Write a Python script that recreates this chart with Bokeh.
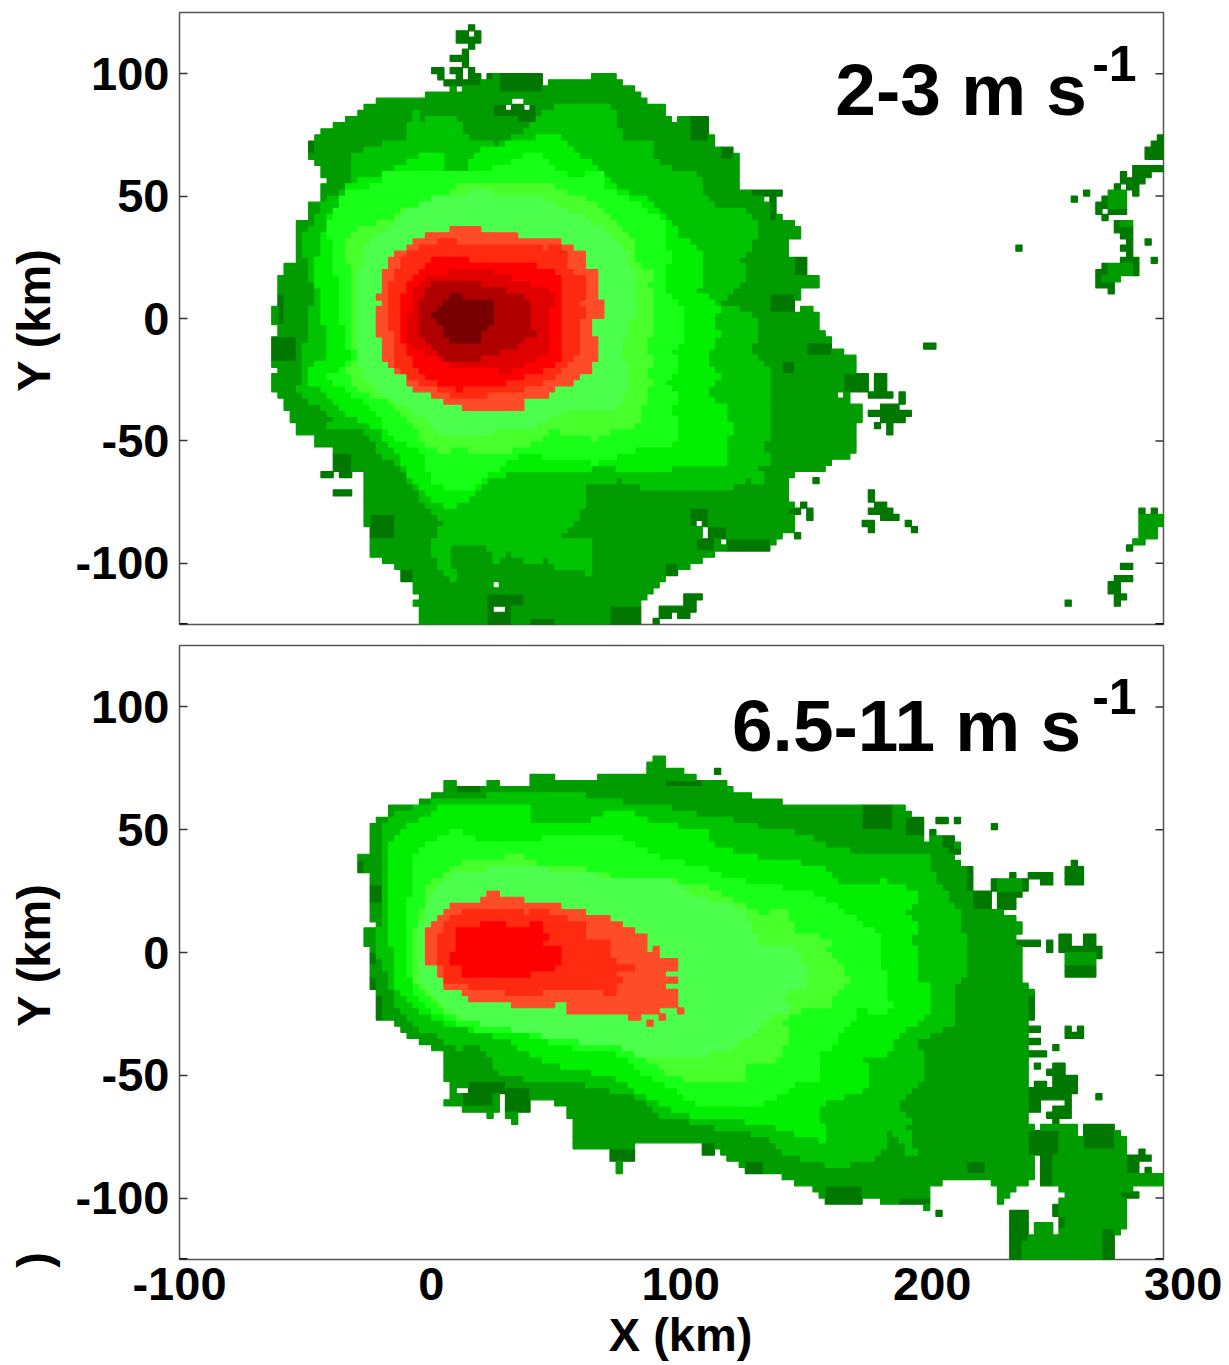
import math
import numpy as np
from bokeh.plotting import figure
from bokeh.layouts import column
from bokeh.models import Label, FixedTicker, LinearAxis, AllLabels
from bokeh.embed import file_html
from bokeh.resources import INLINE

X_TICKS = [-100, 0, 100, 200, 300]
X_TICK_LABEL_AT = [-100, 2.4, 103.7, 206, 300]
Y_TICKS = [-100, -50, 0, 50, 100]
COLORS = ["#007800", "#009c00", "#00c400", "#00f000", "#18ff18", "#48ff2c", "#4cff4c",
          "#ff4c28", "#ff2a10", "#ff0000", "#e00000", "#b00000", "#780000"]

# ---- top panel: outlines of each level (km) ----
T1 = [(-48,72.5),(-42.7,75.4),(-35.4,80.4),(-27.2,82.8),(-25.2,85.7),(-19.5,88.6),(-15,91),(-10,88.6),(0,91),(10,93),(8,95),(14,95),(25,98),(30.5,101),(44.7,101),(48,93),(53,98.4),(67,98),(70,101),(75,101),(80,96),(85.4,93),(90,88.6),(95.5,88.6),(100.4,80.8),(107.7,82.8),(115,78.3),(118,70.5),(125,70.5),(127,66),(127,55.8),(130,50.8),(135,53),(145,53),(145,50.8),(140,50),(143,43.5),(147,40.6),(152.4,37.7),(152.4,33.6),(147,30.3),(147,24.2),(150.4,25.4),(155,25),(155,18),(160,18),(160,13),(152.4,12),(149.6,2.5),(155.7,5),(160,2.5),(160,-4.5),(165.4,-7.4),(165.4,-12),(172.4,-14.8),(174.8,-17),(174.8,-22),(180.5,-22),(177.6,-37.3),(174.8,-45.5),(174.8,-52.5),(172,-56.6),(165.4,-57),(161.8,-62),(152.4,-62),(147.6,-65),(150,-86.5),(142.7,-90),(140.2,-94.7),(117.9,-94.7),(115,-97.6),(110.6,-100),(104.9,-103),(98,-105),(94.7,-107.8),(91.9,-112.3),(87.8,-115.2),(87.8,-125),(-2.8,-125),(-2.8,-117.3),(-5,-116.4),(-2.8,-114),(-5,-107.8),(-10,-107),(-10,-103),(-15,-100),(-20.3,-97.6),(-22.8,-100),(-22.8,-90.6),(-20.3,-87.7),(-25.2,-84.5),(-25.2,-62.7),(-30.5,-62),(-37.4,-62),(-37.4,-55),(-35.4,-52.5),(-42.7,-52.5),(-45.5,-49.6),(-47.6,-46.7),(-52.4,-49.2),(-52.4,-42.6),(-55.3,-42.2),(-55.3,-37.3),(-57.7,-35.3),(-57.7,-32),(-62.2,-29),(-62.2,-24.2),(-59.8,-22),(-59.8,-19.7),(-62.2,-19.7),(-62.2,-9.8),(-60.2,-4.5),(-62.6,-1.6),(-60.2,10.7),(-57.7,23),(-52.4,23.4),(-52.4,40.6),(-48,40.6),(-48,46),(-42.7,48),(-42.7,53),(-39.8,57.8),(-42.7,58.2),(-42.7,63),(-48,66)]
T2 = [(-45.5,10.7),(-50,29.5),(-50,33),(-45.5,39.4),(-39.8,48.8),(-30.5,54),(-29.7,66.4),(-25.2,69.3),(-7.3,73.4),(-5,85.7),(-0.8,85.7),(-2.8,80.8),(13,82.8),(17.5,73.4),(29.7,70.5),(41.5,76.7),(50,85.7),(65,88.6),(76.4,85.7),(80,73.4),(92.3,73.4),(92.7,66),(100.4,61),(112.6,58.2),(112.6,50.8),(117.9,46),(131,43.5),(135,37.7),(133,29.5),(128,25),(130,16),(125,12),(120,5.7),(133.3,2.5),(135,-5.7),(133,-14),(140.7,-22),(139.8,-33),(140.7,-47.6),(137.4,-50.8),(140.7,-59),(135.4,-60.7),(137.8,-67.2),(130.5,-66),(122.8,-70),(92.7,-70),(85,-68),(80,-66),(65,-67.2),(65,-77),(54.9,-89.4),(67,-90.6),(67,-104),(54.9,-103),(49.6,-97.6),(42.7,-100),(32.5,-94.7),(27.6,-101.7),(25.2,-91.8),(9.3,-91.8),(12.2,-107),(4.9,-101.7),(2.8,-91.8),(4.9,-87.3),(7.3,-83.2),(-0.8,-75.4),(-10,-60),(-17.5,-55.8),(-20.3,-52.5),(-22.4,-46.7),(-30.5,-44.7),(-39.8,-44.7),(-37.4,-40),(-47.6,-33),(-52,-30),(-50,-22),(-50,-13.5),(-48,-8.6)]
T3 = [(-42.7,3.7),(-44.7,21.3),(-39.8,40.6),(-34.5,48.8),(-30.5,55.8),(-18.3,58.2),(-10,62.3),(2,68),(7.3,68),(8,61),(17,61),(19.5,68),(30.5,70.5),(39.8,73.4),(55,74.6),(63,66.4),(70,61),(80,51.7),(92.7,47.6),(102.4,35),(112.6,25.4),(112.6,17.2),(110.6,10.7),(120,5),(117,-3.3),(120,-5.7),(114.7,-14),(114.2,-19.7),(120,-22),(113.4,-33),(122.8,-34.4),(124,-45.5),(122,-59),(106.5,-59),(93.5,-63),(79.3,-62),(74,-59),(63,-63),(54.9,-62),(42.7,-62),(27.6,-64.8),(19.5,-73),(13,-75.4),(10,-79.5),(2.8,-73),(-7.3,-63),(-13,-52.5),(-20.3,-44.3),(-31.7,-40),(-37.8,-32),(-49.6,-25),(-45.5,-20),(-39.8,-15.6),(-39.8,-8.6)]
T4 = [(-34.5,7.8),(-39.8,39.4),(-31.7,52.9),(-19.5,54),(-17,59.9),(0.8,59.9),(9,59),(23.6,60.3),(31.7,62.3),(44,68),(52,62.3),(59,57.8),(72.4,59.9),(72.4,54),(83.3,48.8),(87.4,46),(96.7,39.4),(98.4,28.3),(100.4,24.2),(97.6,20),(96.7,11.9),(104.9,5),(104.9,-7.4),(100.4,-14),(102.8,-19.7),(98,-26),(102,-32),(100.4,-36),(102.8,-44.3),(100.4,-52.5),(87.8,-52.5),(80,-55),(70,-59),(54.9,-57.8),(39.8,-55),(27.6,-62),(21,-69),(14.2,-69),(13,-71.3),(2.8,-66),(-0.8,-55),(-13,-48.4),(-22.4,-36),(-33.3,-29),(-39.8,-23.8),(-32.5,-19.7),(-30.5,-15.6),(-33.3,-8.6)]
T5 = [(-29.7,10.7),(-32.5,30.3),(-25.2,37.7),(-15,39.4),(-10,43.5),(3.3,48.8),(10,51.7),(14.2,55.8),(34.6,55),(52,53.7),(68.3,47.6),(83.3,33.6),(86.2,21.3),(95.5,17.2),(88.6,14.8),(92.7,10.7),(91.5,2.5),(92.7,-4.5),(88.6,-9.8),(92.3,-18),(89.4,-22),(92.3,-26),(89.4,-30.3),(87.8,-40),(84,-44.3),(76.4,-44.3),(70,-49.6),(52,-45.5),(41.5,-52.5),(27.6,-55),(22.4,-55),(14.2,-52.5),(9,-54.5),(0,-52.5),(-3.3,-46.7),(-14.2,-34.4),(-26.4,-30.3),(-33.3,-20),(-27.6,-16.8),(-29.3,-8.6)]
T6 = [(-28.5,10.7),(-23.6,29.5),(-10,41.8),(5,50),(22.4,51.7),(44,50),(63,41.8),(75.2,33.6),(82,25.4),(86.2,14.8),(83.3,-3.3),(79.3,-11.5),(82,-21),(81.3,-30.3),(79.3,-36),(54.9,-38.5),(41.5,-45.5),(21,-46.7),(6,-46.7),(-0.8,-41.4),(-7.3,-36),(-15.4,-32),(-25.2,-25),(-27.2,-16.8),(-27.6,-8.6)]
T7 = [(-17.5,15.2),(-15,23),(-10,27.5),(-2.8,33.2),(7.3,35.3),(15,37.7),(22.4,37.7),(22.4,35.3),(32.5,35.3),(42.7,31.2),(44.7,33.2),(52.8,33.2),(57,30.3),(62.2,27.9),(65,25.4),(65,20.9),(70,20.9),(70,8.6),(72.4,8.6),(72.4,0.4),(67.5,-1.6),(67.5,-7.4),(70,-7.4),(70,-14.8),(67,-22),(60,-24.2),(59.8,-27),(54.9,-27),(50,-32.4),(39.8,-32.4),(39.8,-37),(15,-37),(15,-34.4),(9.3,-34),(4.9,-32),(-4.9,-29),(-7.3,-24.2),(-12.2,-22),(-15,-16.8),(-17.5,-16.8),(-17.5,-8.6),(-20.3,-4.5),(-20.3,2.9),(-17.5,5.7),(-20.3,8.6),(-20.3,10.7),(-17.5,11)]
T8 = [(-15,10.7),(-10,23),(-5,27.5),(10,33.2),(12.2,30.3),(39.8,31.2),(48,28.3),(52.8,30.3),(57.7,25.4),(57.7,18.9),(65,18),(65,7.8),(62.6,7.8),(65,2.5),(62.6,-0.4),(62.6,-14),(57.7,-18.9),(52.8,-22),(49.6,-25.8),(39.8,-29),(35.4,-30),(24.4,-30),(24.4,-32.4),(12.2,-32.4),(10,-30),(-2.8,-26),(-7.3,-24.2),(-10,-21.7),(-13,-16.8),(-13,-8.6),(-15,-0.4)]
T9 = [(-10,4.5),(-7.3,15.2),(0,21),(4.9,25.4),(19.5,23.4),(33.3,23),(47.6,21),(54.9,17.2),(54.9,-7.4),(54.9,-13.5),(52.8,-19.7),(44,-22),(30.5,-27),(12.2,-29),(6,-27),(-2.8,-22),(-7.3,-14),(-10,-8.6)]
T10 = [(-7.3,-3.3),(-4.9,10.7),(-2.8,14.8),(2.8,18),(7.3,18),(13,20.9),(20.3,20.9),(31.7,17.2),(39.8,15.2),(50,10.7),(52.8,7.8),(50,2.5),(50,-13.5),(42.7,-17.6),(34.6,-21.7),(21,-20),(12.2,-19.7),(4.9,-16.8),(-2.8,-12.7),(-7.3,-8.6)]
T11 = [(-2.8,-3.3),(-2.8,4.9),(0,10.7),(2.8,15.2),(19.5,15.2),(22.4,13),(29.7,12.7),(42.7,7.8),(42.7,-1.6),(44.7,-6.6),(34.6,-12.7),(19.5,-16.8),(8,-16.8),(4.9,-13.5),(-0.8,-8.6)]
T12 = [(2.8,-0.4),(4.9,4.5),(7.3,5.7),(10,10.7),(15,10.7),(15,8.2),(25,8.2),(27.6,4.5),(27.6,-0.4),(29.7,-0.4),(25,-2.5),(22.4,-5.3),(22.4,-9.8),(10,-9.8),(7.3,-5.3),(4.9,-1.6)]
T_LEVELS = [T2, T3, T4, T5, T6, T7, T8, T9, T10, T11, T12]

# rectangles x0, x1, y0, y1 (km)
T_DARK = [(17.5,20,117.5,120),(12.5,22.5,112.5,117.5),(17.5,20,110,112.5),(15,17.5,107.5,110),(10,17.5,105,107.5),(15,17.5,102.5,105),(2.5,7.5,100,102.5),(5,7.5,97.5,100),(10,15,100,102.5),(12.5,15,97.5,100),(17.5,20,100,102.5),(17.5,22.5,97.5,100),(7.5,22.5,95,97.5),(25,27.5,97.5,100),
(30,47.5,92.5,100),(27.5,45,82.5,87.5),(37.5,45,80,82.5),(-37.5,-30,-62.5,-55),(-42.5,-37.5,-65,-62.5),(-35,-30,-65,-62.5),(-37.5,-30,-72.5,-70),(-22.5,-12.5,-90,-80),(-10,-5,-107.5,-102.5),(25,35,-125,-112.5),(25,40,-117.5,-112.5),(75,87.5,-125,-117.5),(42.5,52.5,-125,-122.5),(-62.5,-52.5,-17.5,-7.5),(-60,-57.5,-2.5,10),(-47.5,-45,67.5,72.5),
(132.5,145,50,52.5),(140,142.5,40,50),(150,155,17.5,25),(140,150,2.5,10),(170,180,-30,-22.5),(145,150,-22.5,-17.5),(155,165,-15,-10),(107.5,115,-85,-77.5),(115,122.5,-90,-85),(122.5,140,-95,-90),(110,117.5,-95,-90),(97.5,102.5,-105,-100),(107.5,115,72.5,82.5),(120,125,65,70),
(182,187.5,-32,-22),(180.5,190,-32.5,-30),(192.5,195,-35,-30),(180,197.5,-40,-37.5),(185,192.5,-37.5,-35),(185,195,-42.5,-40),(187.5,190,-47.5,-42.5),(182.5,185,-45,-42.5),(202.5,207.5,-12.5,-10),(157.5,160,-67.5,-65),(152.5,155,-77.5,-75),(155,157.5,-82.5,-77.5),(147.5,152.5,-80,-77.5),(150,152.5,-90,-87.5),
(180,182.5,-75,-70),(182.5,187.5,-77.5,-75),(180,190,-80,-77.5),(185,192.5,-82.5,-80),(177.5,182.5,-85,-82.5),(180,182.5,-87.5,-85),(195,197.5,-85,-82.5),(197.5,200,-87.5,-85),
(105,112.5,-115,-112.5),(105,110,-120,-115),(95,105,-120,-117.5),(95,100,-122.5,-120),(102.5,107.5,-122.5,-120),(92.5,95,-125,-122.5),
(290,292.5,-80,-77.5),(295,297.5,-80,-77.5),(285,287.5,-95,-92.5),(282.5,287.5,-102.5,-100),(280,287.5,-107.5,-105),(277.5,282.5,-112.5,-107.5),(280,285,-115,-112.5),(280,282.5,-117.5,-115),(260,262.5,-117.5,-115),
(297.5,300,72.5,75),(295,300,70,72.5),(292.5,300,65,70),(287.5,300,60,62.5),(287.5,295,57.5,60),(282.5,285,57.5,60),(282.5,292.5,55,57.5),(280,282.5,52.5,55),(285,290,52.5,55),(287.5,290,50,52.5),(277.5,285,50,52.5),(275,285,47.5,50),(272.5,285,45,47.5),(272.5,275,42.5,45),(277.5,285,42.5,45),(275,277.5,40,42.5),(280,287.5,35,40),(282.5,287.5,32.5,35),(285,287.5,30,32.5),(282.5,287.5,27.5,30),(292.5,295,30,32.5),(267.5,270,50,52.5),(262.5,265,47.5,50),(240,242.5,27.5,30),(285,287.5,25,27.5),(282.5,290,22.5,25),(275,290,17.5,22.5),(272.5,280,12.5,20),(277.5,280,10,12.5),(295,297.5,22.5,25)]
T_LIGHT = [(277.5,285,45,52.5),(282.5,287.5,37.5,40),(277.5,287.5,17.5,22.5),(275,282.5,15,17.5),(290,300,-85,-80),(290,297.5,-90,-85),(287.5,292.5,-92.5,-90)]
T_HOLES = [(17.5,20,115,117.5),(12.5,15,92.5,95),(35,40,88.5,91),(32.5,35,86,88.5),(40,42.5,86,88.5),(27.5,30,-110,-107.5),(27.5,32.5,-120,-117.5),(137.5,140,47.5,50),(172.5,180,-35,-30),(167.5,170,-32.5,-30),(110,112.5,-85,-82.5),(112.5,115,-90,-85),(120,122.5,-92.5,-90)]

# ---- bottom panel ----
B1 = [(-27.6,37.5),(-25.2,40.4),(-22.8,41.2),(-22.8,50.6),(-20.3,55.5),(-15,56),(-15,60.8),(-2.8,60.8),(7.3,65.7),(9.3,70.6),(12.2,68),(25.2,68),(25.2,70.6),(29.7,70.6),(29.7,68),(42.7,68),(42.7,70.6),(44.7,73),(52,73),(52,70.6),(70,70.6),(70,73.4),(90.2,73.4),(90.2,75.9),(92.7,78),(94.7,80.4),(97.6,80.4),(97.6,75),(107.7,73),(112.6,70.2),(122.8,70.2),(124.8,65.7),(136.2,63.2),(147.6,60.8),(192.3,60.8),(195,58),(200,55.5),(202.8,50.6),(203.3,45.3),(207.3,48.6),(214.6,48),(217.5,42.4),(215.4,38.4),(218.3,35.5),(222.8,35.5),(222.8,23.3),(230.5,23.3),(230.5,16.7),(235.8,16),(242.7,13),(242.7,7.8),(240.6,5.7),(243,1.6),(242.7,-10.6),(245,-12.6),(242.7,-16),(248,-16),(248,-27),(245,-29),(245,-67.7),(248,-71.8),(251.2,-69.8),(265,-69.8),(265,-77),(268.3,-70.6),(280.5,-71.8),(285.4,-73),(280.5,-74.7),(285.4,-77),(285.4,-81.2),(289.8,-82.8),(289.8,-89.4),(300,-91.4),(300,-94.2),(287.8,-94.2),(285.4,-99),(285.4,-111.4),(283.3,-113.8),(279.7,-116.7),(277.6,-125),(237.4,-125),(237.4,-104.4),(240.2,-104.4),(240.2,-107.3),(245,-107.3),(245,-111.8),(242.7,-113.8),(248,-116.7),(248,-109.3),(255.3,-109.3),(256,-113.8),(258,-113.8),(258,-101.6),(260,-97.5),(258,-96.3),(250.8,-95.5),(250.8,-82.8),(248,-82),(248,-90),(245,-95),(240.6,-96.3),(240.6,-98.3),(235.8,-99),(235,-101.6),(233,-101.6),(233,-97.5),(230.5,-92.2),(225.6,-91.4),(217.5,-91.4),(210.6,-93.4),(205.3,-96.3),(204.5,-104.4),(198.4,-101.6),(192.3,-101.6),(187,-104.4),(185,-99),(178,-99),(177.6,-104.4),(174.8,-101.6),(162.6,-101.6),(159.8,-98.3),(155.3,-95.5),(149.6,-93.4),(145.5,-91.4),(137.4,-89),(130.9,-89),(128,-85.3),(123.2,-84),(117.9,-79.2),(115,-82),(112.6,-84),(112.6,-79.2),(110.6,-76.7),(87.4,-76.7),(84.6,-79.2),(84.6,-86),(80,-85.3),(80,-89),(77.2,-89),(77.2,-81.2),(75.2,-79.2),(60.2,-79.2),(60.2,-66.5),(57.7,-66.5),(57.7,-62.4),(52.8,-61.6),(47.6,-58.8),(42.7,-60.4),(42.7,-64.5),(37.4,-64.5),(37.4,-69),(34.6,-69),(32.5,-66.5),(32.5,-57.5),(29.7,-56.7),(29.7,-63.6),(27.2,-66.5),(25.2,-66.5),(22.4,-63.6),(20.3,-66.5),(15,-63.6),(7.3,-61.6),(7.3,-58.8),(9.8,-58.8),(9.8,-51.4),(7.3,-51.4),(7.3,-42),(5.3,-40),(-2.8,-36.3),(-7.3,-33.9),(-13,-28.2),(-20,-24),(-20,-9.4),(-22.8,-13.9),(-22.8,0.8),(-25.2,3.7),(-25.2,7.8),(-22.8,10.6),(-20,11),(-22.8,13),(-22.8,20.8),(-22.8,32.2),(-27.6,33.5)]
B2 = [(-20.3,2.9),(-17.5,16.7),(-17.5,52.6),(-10,57.5),(0,60.8),(9,62.8),(25.2,63.6),(33.3,65.7),(42.7,64),(79.3,63.6),(80.5,60.8),(95.5,60.8),(100.8,58),(112.6,55.5),(120.7,55.5),(136.2,50.6),(152.4,48.6),(165.4,42.4),(177.6,40.4),(187.8,40.4),(204,39.2),(207.3,30.2),(212.6,23.3),(214.6,18),(218.3,16.7),(218.7,8.6),(220.3,-5.3),(222.8,-7.8),(215.4,-11.8),(214.6,-29.8),(208,-32.2),(198,-38),(202.4,-42),(202.4,-50.2),(195,-57.5),(192.3,-62.8),(197,-67.7),(195,-70.6),(200,-82),(197,-82.8),(187.8,-70.6),(187.8,-79),(180.9,-85.3),(165.4,-87),(156.5,-85.3),(144.3,-80.8),(137.4,-74.7),(126.8,-73),(107.7,-69),(95.5,-66.5),(87.4,-59.6),(76.4,-56.7),(57.7,-51.4),(42.7,-52.6),(37.4,-49.4),(29.3,-50.2),(27.6,-44.5),(22.4,-37),(12.2,-39.2),(8,-36.3),(2.8,-32.2),(-2.8,-31),(-12.2,-21.6),(-15,-11.8),(-17.5,-5.3)]
B3 = [(-13,1.6),(-15,5.7),(-15,45.3),(-10,48.6),(-7.3,52.6),(2.8,55.5),(7.3,60.8),(15,58.8),(37.4,60),(42.7,60.8),(42.7,53.4),(67,53.4),(75.2,57.5),(89.4,55.5),(90.2,52.6),(114.6,49.8),(117,43.7),(136.2,38.4),(159.3,35.5),(170,26),(178,28),(187.8,29),(202.4,23.3),(195,17),(200,12.6),(198,4.9),(201.2,-3.3),(200.4,-11.8),(205.3,-13.5),(204,-24),(198,-29.8),(191,-33.9),(187.8,-43.2),(178,-42),(180,-51.4),(177.6,-56.7),(165.4,-59.6),(159.8,-62.8),(162.6,-78.7),(159.8,-78.7),(159.8,-74.7),(152.4,-74.7),(138.2,-69.8),(123.2,-67.7),(110.6,-66.5),(102.4,-65.7),(87.4,-57.5),(76.4,-50.6),(63,-48),(49.6,-45.3),(42.7,-41.2),(34.6,-36.3),(22.4,-32.2),(7.3,-29),(-2.8,-22.8),(-11,-16),(-13,-5.3)]
B4 = [(-7,-6.5),(-7.3,7),(-5,39.6),(0,43.2),(5.3,45.7),(12.2,49.8),(22.4,45.7),(45.5,45.3),(53.7,47.7),(78,47.7),(87.4,42.4),(98.4,37),(110.6,35.5),(117,32),(136.2,27.3),(156.5,24.9),(170,16.7),(175.6,13),(184,7.8),(185,1.6),(184,-5.3),(187.8,-9.4),(186.2,-16),(190.2,-22.8),(181,-25.7),(176.8,-21.6),(172.8,-28.2),(167.9,-33.9),(164.6,-39.2),(159.8,-42),(159.8,-51.4),(150.4,-51.4),(147.6,-56.7),(140.2,-59.6),(133.3,-63.6),(123.2,-62.4),(110.6,-62.4),(102.4,-56.7),(88.6,-49.4),(79.3,-42),(72.4,-40),(61.8,-39.2),(45.5,-35),(35.8,-31.8),(20.3,-31.8),(7.3,-26),(2,-22.8),(-5,-17.5)]
B5 = [(-5,-11.8),(-5,7),(0,20.8),(0,26),(7.3,31.4),(12.2,35.5),(20.3,37.5),(39.4,39.6),(45.5,35.5),(54.9,35.5),(68.3,33),(80.5,30.2),(97.6,30.2),(104.9,28),(112.6,28),(121,23.3),(136.2,15),(147.6,18),(149.6,7),(168,5.7),(161.8,1.6),(172.8,-10.6),(164.6,-18.8),(165.4,-22.8),(155.3,-21.6),(145.5,-28.2),(147,-33.9),(145.5,-43.2),(136.2,-44.5),(128,-47.3),(131,-51.4),(111.8,-52.6),(99.6,-50.2),(90.2,-43.2),(76.4,-37),(65.9,-37),(54.9,-33.9),(34.6,-30.2),(17.5,-28),(6,-22.8),(-2,-14.7)]
B6 = [(-2.8,-10.6),(-2.8,7),(2.8,24.9),(10,31.4),(22.4,33.5),(41.5,35.5),(54.9,33),(78,30.2),(97.6,29.4),(104.9,26),(110.6,22),(128,18),(136.2,2.9),(149.6,2.9),(153.7,-5.3),(154.5,-13.5),(144.3,-17.5),(149.6,-22.8),(139,-27),(136.2,-29.8),(125.2,-39),(111.8,-42),(88.6,-43.2),(76.4,-37),(63,-36.3),(33.3,-31),(15.4,-27),(4.9,-18.8),(-0.8,-11.8)]
B7 = [(0,-4.5),(0,7.8),(2.8,10.6),(5.3,13),(9.3,18),(12.2,20.8),(22.4,20.8),(22.4,23.3),(25.2,23.3),(25.2,25.7),(30,25.7),(30,23.3),(39.8,23.3),(39.8,20.8),(54.9,20.8),(54.9,18),(65,18),(65,15.5),(75.2,15.5),(75.2,13),(80,13),(80,10.6),(85.4,10.6),(85.4,8.2),(89.8,8.2),(89.8,0.8),(92.7,0.8),(92.7,3.3),(95,3.3),(95,-2),(102.4,-2),(102.4,-7),(97.6,-7),(97.6,-9.4),(102.4,-9.4),(102.4,-11.8),(97.6,-11.8),(97.6,-14.3),(102.4,-16.7),(102.4,-21.6),(95,-21.6),(95,-24),(87.8,-24),(87.8,-26.5),(82.5,-26.5),(82.5,-24),(57.3,-24),(57.3,-19.2),(52.4,-19.2),(52.4,-21.6),(35,-21.6),(35,-19.2),(17.5,-19.2),(17.5,-16.7),(15,-16.7),(15,-14.3),(7.3,-14.3),(7.3,-9.4),(4.9,-9.4),(4.9,-6.5),(2.4,-4.5)]
B8 = [(4.9,-4.5),(4.9,5.7),(7.3,10.6),(10,13),(12.2,15.5),(17.5,18),(39.8,18),(39.8,15.5),(47.6,18),(50,15.5),(57.7,15.5),(57.7,13),(62.6,13),(65,10.6),(65,5.7),(75.2,5.7),(75.2,-1.6),(77.2,-4.5),(85.4,-4.5),(85.4,-6.5),(77.2,-7),(77.2,-9.4),(80,-9.4),(80,-11.8),(77.2,-11.8),(77.2,-16.7),(72.4,-16.7),(72.4,-14.3),(47.6,-14.3),(47.6,-16.7),(32.5,-16.7),(30,-14.3),(25.2,-16.7),(25.2,-14.3),(17.5,-14.3),(17.5,-11.8),(7.3,-11.8),(7.3,-7)]
B9 = [(12.2,0.8),(12.2,10.6),(22.4,10.6),(22.4,13),(32.5,13),(32.5,10.6),(42.7,10.6),(42.7,13),(47.6,13),(47.6,8.6),(50,8.6),(50,5.7),(47.6,5.7),(47.6,3.3),(54.9,3.3),(54.9,-4.5),(52.8,-6.5),(42.7,-6.5),(42.7,-9.4),(15,-9.4),(15,-6.5),(9.8,-4.5),(9.8,0.8)]
B_LEVELS = [B2, B3, B4, B5, B6, B7, B8, B9]
B_RED_SPECKS = [(102.5,105,-25,-22.5),(95,97.5,-27.5,-25),(90,92.5,-30,-27.5)]
B_DARK = [(12.5,22.5,65,67.5),(97.5,112.5,67.5,70),(-27.5,-25,32.5,37.5),(-22.5,-15,20,27.5),(-22.5,-20,-5,0),(-22.5,-20,-15,-10),(-20,-17.5,-27,-17),
(17.5,32.5,-57.5,-52.5),(32.5,42.5,-65,-55),(15,27.5,-62.5,-57.5),(75,85,-85,-80),(130,137.5,-90,-85),(112.5,117.5,-82.5,-77.5),(177.5,190,50,60),(195,202.5,47.5,55),(220,222.5,25,35),(222.5,230,17.5,25),(162.5,177.5,-102.5,-95),(192.5,205,-102.5,-100),(220,227.5,-91,-85),
(245,257.5,-82.5,-72.5),(250,255,-95,-82.5),(268,280,-80,-70),(285,290,-90,-82.5),(237.5,245,-117.5,-105),(237.5,242.5,-125,-117.5),(275,280,-125,-112.5),
(207.5,212.5,52.5,55),(215,217.5,52.5,55),(230,232.5,50,52.5),(205,207.5,47.5,50),(210,215,42.5,47.5),(212.5,217.5,40,42.5),(262.5,265,35,37.5),(260,267.5,27.5,35),(250,255,27.5,32.5),(245,250,30,32.5),(237.5,240,30,32.5),(230,245,25,30),(232.5,242.5,22.5,25),(232.5,240,17.5,22.5),(240,250,2.5,5),(252.5,255,0,5),(257.5,262.5,0,7.5),(267.5,272.5,2.5,7.5),(260,275,-2.5,2.5),(260,272.5,-10,-2.5),(245,247.5,-27,-17),(245,250,-32.5,-30),(245,250,-37.5,-35),(245,252.5,-42.5,-40),(255,257.5,-40,-37.5),(260,267.5,-35,-32.5),(260,262.5,-32.5,-30),(265,267.5,-32.5,-30),(247.5,250,-47.5,-45),(255,260,-47.5,-45),(252.5,260,-50,-47.5),(255,265,-57.5,-50),(247.5,252.5,-55,-52.5),(245,262.5,-60,-55),(260,262.5,-67.5,-60),(252.5,262.5,-67.5,-65),(255,260,-65,-62.5),(245,250,-65,-60),(255,257.5,-70,-67.5),(272.5,275,-60,-57.5),(290,292.5,-82.5,-80),(290,295,-85,-82.5),(292.5,295,-90,-87.5),(287.5,297.5,-91,-89),(282.5,290,-100,-97.5),(255,257.5,-107.5,-102.5),(257.5,260,-112.5,-107.5),(207.5,210,-107.5,-105),(117.5,120,72.5,75)]
B_LIGHT = [(232.5,242.5,25,30),(260,272.5,-5,0)]
B_HOLES = [(12.5,17.5,-57.5,-55)]

# ---- grid ----
STEP = 2.5
xc = -100 + STEP * (np.arange(160) + 0.5)
yc = -125 + STEP * (np.arange(100) + 0.5)
GX, GY = np.meshgrid(xc, yc)


def inside(poly):
    m = np.zeros(GX.shape, bool)
    n = len(poly)
    for i in range(n):
        x1, y1 = poly[i]
        x2, y2 = poly[(i + 1) % n]
        if y1 == y2:
            continue
        c = (y1 > GY) != (y2 > GY)
        xi = x1 + (GY - y1) * (x2 - x1) / (y2 - y1)
        m ^= c & (GX < xi)
    return m


def rect(r):
    return (GX >= r[0]) & (GX <= r[1]) & (GY >= r[2]) & (GY <= r[3])


def build(outer, levels, dark, light, holes, extra):
    g = np.zeros(GX.shape, int)
    g[inside(outer)] = 2
    for r in dark:
        g[rect(r)] = 1
    for r in light:
        g[rect(r)] = 2
    for i, poly in enumerate(levels):
        g[inside(poly)] = i + 3
    for r, lev in extra:
        g[rect(r)] = lev
    for r in holes:
        g[rect(r)] = 0
    return g


def draw(p, g):
    for lev in range(1, len(COLORS) + 1):
        left, right, bottom, top = [], [], [], []
        for j in range(g.shape[0]):
            row = g[j] == lev
            i = 0
            while i < len(row):
                if row[i]:
                    k = i
                    while k + 1 < len(row) and row[k + 1]:
                        k += 1
                    left.append(xc[i] - STEP / 2)
                    right.append(xc[k] + STEP / 2)
                    bottom.append(yc[j] - STEP / 2)
                    top.append(yc[j] + STEP / 2)
                    i = k + 1
                else:
                    i += 1
        if left:
            p.quad(left=left, right=right, bottom=bottom, top=top,
                   fill_color=COLORS[lev - 1], line_color=COLORS[lev - 1], line_width=1.2)


FONT = "Liberation Sans"
LEFT_BORDER = 204


def lab(p, x, y, t, size):
    p.add_layout(Label(x=x, y=y, text=t, text_font=FONT, text_font_style="bold",
                       text_font_size=f"{size}px", text_color="black", text_align="left",
                       text_baseline="middle"))


def text_axis(ax, size=47):
    ax.axis_line_color = None
    ax.major_tick_line_color = None
    ax.minor_tick_line_color = None
    ax.major_label_text_font = FONT
    ax.major_label_text_font_style = "bold"
    ax.major_label_text_font_size = f"{size}px"
    ax.major_label_text_color = "black"
    ax.major_label_policy = AllLabels()


def panel(height, bt, bb):
    p = figure(width=LEFT_BORDER + 984 + 62, height=height, x_range=(-100, 300), y_range=(-125, 125),
               output_backend="svg", toolbar_location=None, x_axis_type=None,
               min_border_left=LEFT_BORDER, min_border_right=62, min_border_top=bt, min_border_bottom=bb,
               background_fill_color="white", border_fill_color="white")
    p.grid.visible = False
    p.outline_line_color = "#555555"
    p.outline_line_width = 1.5
    y = p.yaxis[0]
    y.ticker = FixedTicker(ticks=Y_TICKS)
    y.major_label_overrides = {t: str(t) for t in Y_TICKS}
    y.axis_line_color = None
    y.major_tick_in = 8
    y.major_tick_out = 0
    y.major_tick_line_color = "#333333"
    y.major_tick_line_width = 1.5
    y.minor_tick_line_color = None
    y.major_label_text_font = FONT
    y.major_label_text_font_style = "bold"
    y.major_label_text_font_size = "47px"
    y.major_label_text_color = "black"
    y.major_label_standoff = 10
    return p


def ticks(p):
    ys = Y_TICKS + [-125]
    p.segment(x0=[296.75] * len(ys), x1=[300] * len(ys), y0=ys, y1=ys, line_color="#333333", line_width=1.5)
    p.segment(x0=[-100], x1=[-96.75], y0=[-125], y1=[-125], line_color="#111111", line_width=3)
    p.segment(x0=[296.75], x1=[300], y0=[-125], y1=[-125], line_color="#111111", line_width=3)


def y_title(p, at, extra=None):
    a = LinearAxis()
    text_axis(a)
    tk = {at: "Y (km)"}
    if extra:
        tk.update(extra)
    a.ticker = FixedTicker(ticks=list(tk))
    a.major_label_overrides = tk
    a.major_label_orientation = math.pi / 2
    a.major_label_standoff = 33
    p.add_layout(a, "left")


p1 = panel(630, 12, 6)
draw(p1, build(T1, T_LEVELS, T_DARK, T_LIGHT, T_HOLES, []))
ticks(p1)
y_title(p1, 28.7)
lab(p1, 166.6, 93.4, "2-3 m s", 73)
lab(p1, 271, 104, "-1", 50)

p2 = panel(735, 15, 106)
draw(p2, build(B1, B_LEVELS, B_DARK, B_LIGHT, B_HOLES, [(r, 8) for r in B_RED_SPECKS]))
ticks(p2)
y_title(p2, 28.2, {-122: ")"})
lab(p2, 124.6, 92.4, "6.5-11 m s", 73)
lab(p2, 271, 104.4, "-1", 50)

xa = LinearAxis()
text_axis(xa)
xa.ticker = FixedTicker(ticks=X_TICK_LABEL_AT)
labels = {a: str(t) for a, t in zip(X_TICK_LABEL_AT, X_TICKS)}
labels[300] = "\u00a0\u00a0\u00a0300"
xa.major_label_overrides = labels
xa.major_label_standoff = -9
p2.add_layout(xa, "below")
xb = LinearAxis()
text_axis(xb)
xb.ticker = FixedTicker(ticks=[103.7])
xb.major_label_overrides = {103.7: "X (km)"}
xb.major_label_standoff = -11
p2.add_layout(xb, "below")

page = column(p1, p2, spacing=0, styles={"margin-left": f"{179 - LEFT_BORDER}px"})
open("out.html", "w").write(file_html(page, INLINE))
